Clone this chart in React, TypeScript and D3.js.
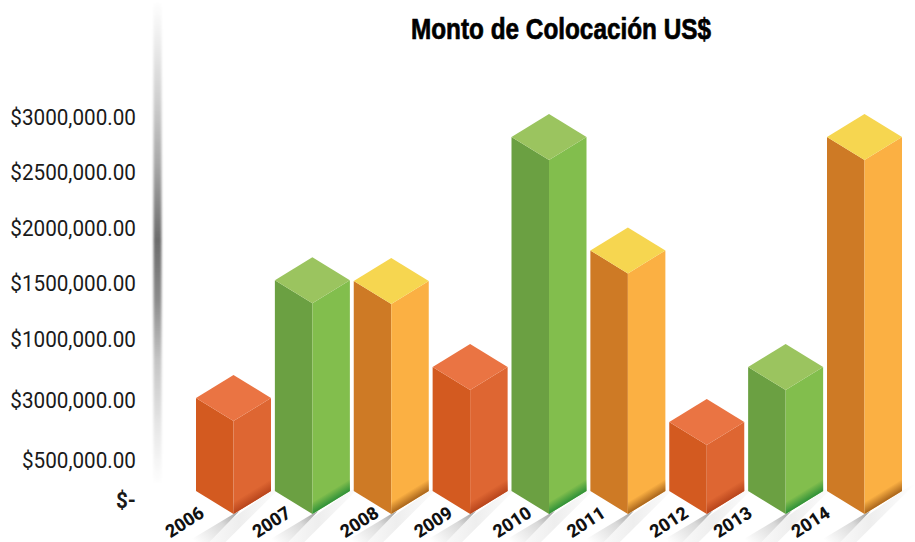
import React from "react";
import * as d3 from "d3";

const years = ["2006", "2007", "2008", "2009", "2010", "2011", "2012", "2013", "2014"];
const amounts = [746000, 1690000, 1685000, 995000, 2840000, 1930000, 553000, 995000, 2840000];
const families = ["red", "green", "amber", "red", "green", "amber", "red", "green", "amber"];
const tickValues = [0, 500000, 750000, 1000000, 1500000, 2000000, 2500000, 3000000];
const tickLabels = ["$-", "$500,000.00", "$3000,000.00", "$1000,000.00", "$1500,000.00", "$2000,000.00", "$2500,000.00", "$3000,000.00"];

const palette: Record<string, { left: string; right: string; top: string; dark: string }> = {
  red: { left: "#D35A20", right: "#DE6632", top: "#EA7443", dark: "#B8451C" },
  green: { left: "#6BA042", right: "#82BE4D", top: "#9BC45F", dark: "#2F9138" },
  amber: { left: "#CE7A25", right: "#FBB043", top: "#F6D650", dark: "#A9651C" },
};
const labelNudge = [-49, -41, -32, -37, -37, -42, -38, -53, -54];

const W = 915;
const H = 542;
const halfW = 37.5;
const halfH = 23;
const footH = 12;

const App = () => {
  const x = d3.scalePoint<string>().domain(years).range([233.5, 864.5]);
  const barY = d3.scaleLinear().domain([0, 3000000]).range([491, 117]);
  const tickY = d3
    .scaleLinear()
    .domain(tickValues)
    .range([500, 460, 400, 339, 283, 228, 172, 117]);
  const poly = d3.line<[number, number]>().curve(d3.curveLinearClosed);
  const base = barY(0);
  const norm = Math.hypot(halfH, halfW);
  const nx = halfH / norm;
  const ny = halfW / norm;

  return (
    <svg width={W} height={H} viewBox={`0 0 ${W} ${H}`} style={{ position: "absolute", left: 0, top: 0, background: "#fff" }}>
      <defs>
        <linearGradient id="axisBand" x1="0" x2="0" y1="0" y2="1">
          <stop offset="0" stopColor="#ffffff" />
          <stop offset="0.06" stopColor="#f2f2f2" />
          <stop offset="0.2" stopColor="#cfcfcf" />
          <stop offset="0.33" stopColor="#a8a8a8" />
          <stop offset="0.48" stopColor="#6c6c6c" />
          <stop offset="0.6" stopColor="#8c8c8c" />
          <stop offset="0.72" stopColor="#c4c4c4" />
          <stop offset="0.85" stopColor="#e6e6e6" />
          <stop offset="0.97" stopColor="#ffffff" />
        </linearGradient>
        <filter id="soft" x="-50%" width="200%">
          <feGaussianBlur stdDeviation="1 0" />
        </filter>
        <linearGradient id="shadow" x1="1" x2="0" y1="0" y2="0.6">
          <stop offset="0" stopColor="#9a9a9a" />
          <stop offset="0.4" stopColor="#d9d9d9" />
          <stop offset="1" stopColor="#fff" />
        </linearGradient>
        <linearGradient id="glow" x1="1" x2="0" y1="0" y2="0">
          <stop offset="0" stopColor="#fff" />
          <stop offset="0.5" stopColor="#eeeeee" />
          <stop offset="1" stopColor="#fff" />
        </linearGradient>
        {years.map((yr, i) => {
          const cx = x(yr) as number;
          const sx = cx;
          const sy = base + halfH - footH;
          const d = footH * ny;
          const dark = palette[families[i]].dark;
          return (
            <linearGradient
              key={yr}
              id={`foot-${yr}`}
              gradientUnits="userSpaceOnUse"
              x1={sx}
              y1={sy}
              x2={sx + nx * d}
              y2={sy + ny * d}
            >
              <stop offset="0" stopColor={dark} stopOpacity="0" />
              <stop offset="1" stopColor={dark} stopOpacity="1" />
            </linearGradient>
          );
        })}
      </defs>

      <rect x={153.5} y={0} width={8} height={500} fill="url(#axisBand)" filter="url(#soft)" />

      <text
        x={561}
        y={38.5}
        textAnchor="middle"
        fontFamily="'Liberation Sans', sans-serif"
        fontWeight="700"
        fontSize={30}
        textLength={300}
        lengthAdjust="spacingAndGlyphs"
        fill="#000"
        stroke="#000"
        strokeWidth={0.7}
      >
        Monto de Colocación US$
      </text>

      {tickValues.map((v, i) => (
        <g key={i} transform={`translate(136,${tickY(v)}) scale(0.94,1)`}>
          <text
            textAnchor="end"
            dy="0.35em"
            fontFamily="Roboto, sans-serif"
            fontSize={22}
            fontWeight={v === 0 ? 700 : 400}
            fill="#1a1a1a"
          >
            {tickLabels[i]}
          </text>
        </g>
      ))}

      {years.map((yr) => {
        const cx = x(yr) as number;
        const front = base + halfH;
        const glow: [number, number][] = [
          [cx + halfW, base],
          [cx + halfW + 14, base - 8],
          [cx - 12, front + 32],
          [cx - 40, front + 32],
        ];
        const wedge: [number, number][] = [
          [cx, front],
          [cx + 6, front - 3],
          [cx - 26, front + 30],
          [cx - 50, front + 30],
        ];
        return (
          <g key={yr}>
            <path d={poly(glow) as string} fill="url(#glow)" />
            <path d={poly(wedge) as string} fill="url(#shadow)" />
          </g>
        );
      })}

      {years.map((yr, i) => {
        const cx = x(yr) as number;
        const top = barY(amounts[i]);
        const p = palette[families[i]];
        const l = cx - halfW;
        const r = cx + halfW;
        const leftFace: [number, number][] = [[l, top], [cx, top + halfH], [cx, base + halfH], [l, base]];
        const rightFace: [number, number][] = [[cx, top + halfH], [r, top], [r, base], [cx, base + halfH]];
        const topFace: [number, number][] = [[l, top], [cx, top - halfH], [r, top], [cx, top + halfH]];
        const foot: [number, number][] = [[cx, base + halfH - footH], [r, base - footH], [r, base], [cx, base + halfH]];
        return (
          <g key={yr}>
            <path d={poly(leftFace) as string} fill={p.left} />
            <path d={poly(rightFace) as string} fill={p.right} />
            <path d={poly(foot) as string} fill={`url(#foot-${yr})`} />
            <path d={poly(topFace) as string} fill={p.top} />
          </g>
        );
      })}

      {years.map((yr, i) => {
        const cx = (x(yr) as number) + labelNudge[i];
        return (
          <text
            key={yr}
            transform={`translate(${cx},${base + 31}) rotate(-33)`}
            textAnchor="middle"
            dy="0.35em"
            fontFamily="Roboto, sans-serif"
            fontWeight="800"
            fontSize={18}
            fill="#111"
          >
            {yr}
          </text>
        );
      })}
    </svg>
  );
};

export default App;
